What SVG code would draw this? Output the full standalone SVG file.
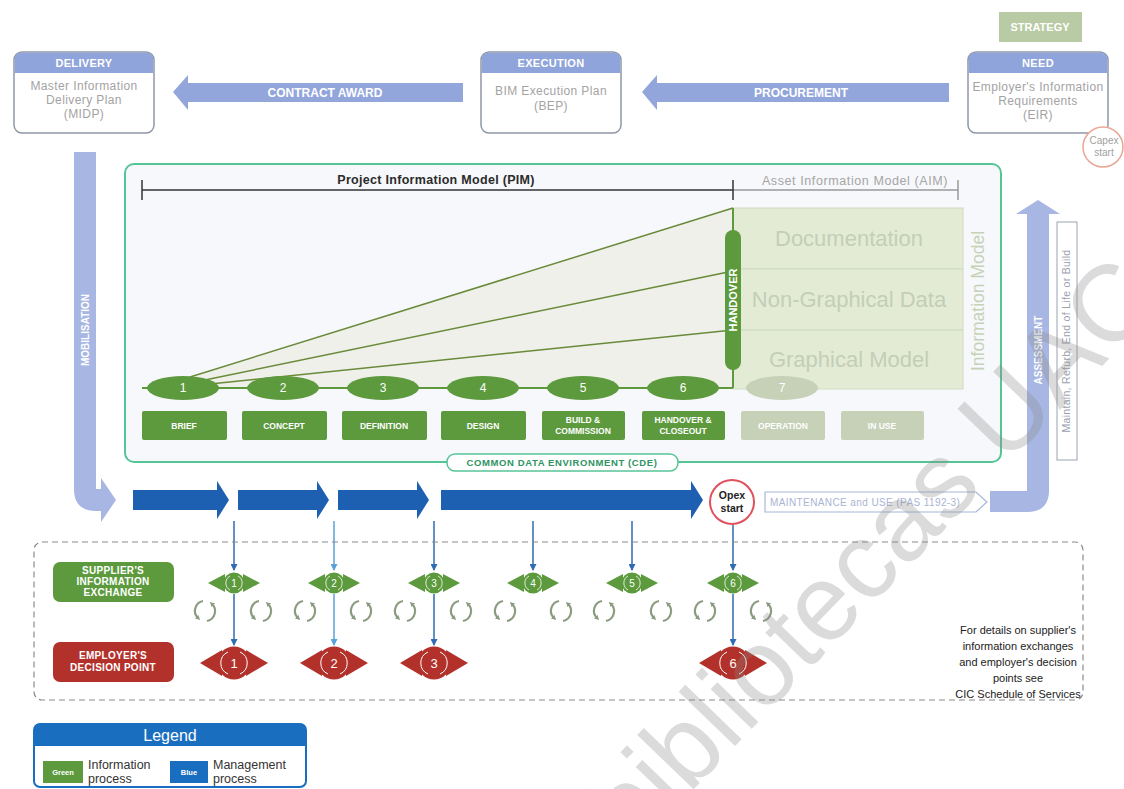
<svg xmlns="http://www.w3.org/2000/svg" width="1124" height="789" viewBox="0 0 1124 789">
<defs>
<style>
text{font-family:"Liberation Sans",Arial,sans-serif}
.pbox{fill:#fff;stroke:#8e98a8;stroke-width:1.5}
.phead{fill:#8fa4da}
.hdr{fill:#fff;font-weight:bold;font-size:11px;text-anchor:middle;letter-spacing:0.3px}
.body{fill:#a3a3a3;font-size:12px;text-anchor:middle;letter-spacing:0.4px}
.parrow{fill:#93a6dc}
.pat{fill:#fff;font-weight:bold;font-size:12px;text-anchor:middle}
.on{fill:#5c9a3d}
.off{fill:#c6d1b7}
.snum{fill:#fff;font-size:12px;text-anchor:middle}
.slab{fill:#fff;font-weight:bold;font-size:8.5px;text-anchor:middle}
.blab{fill:#fff;font-weight:bold;font-size:10px;text-anchor:middle;letter-spacing:0.3px}
.fan{stroke:#6a8a3a;stroke-width:1.5;fill:none}
.imbox{fill:#e3ebd5;stroke:#cfdcbf;stroke-width:1}
.imt{fill:#c4ceb7;font-size:22px;text-anchor:middle}
.mgmt{fill:#1d5fb0}
.vl{stroke:#2f6cb3;stroke-width:1.5;fill:none;marker-end:url(#ah)}
.vl2{stroke:#5aa2d6;stroke-width:1.5;fill:none;marker-end:url(#ah2)}
.cyc{stroke:#8b9c80;stroke-width:2.2;fill:none;marker-end:url(#ch)}
.gnum{fill:#fff;font-size:10px;text-anchor:middle}
.rnum{fill:#fff;font-size:13px;text-anchor:middle}
.note{fill:#222;font-size:11px;text-anchor:middle}
.leg{fill:#333;font-size:12.5px}
</style>
<marker id="ah" markerWidth="7" markerHeight="7" refX="6" refY="3.5" orient="auto" markerUnits="userSpaceOnUse"><path d="M0,0 L7,3.5 L0,7 Z" fill="#2f6cb3"/></marker>
<marker id="ah2" markerWidth="7" markerHeight="7" refX="6" refY="3.5" orient="auto" markerUnits="userSpaceOnUse"><path d="M0,0 L7,3.5 L0,7 Z" fill="#5aa2d6"/></marker>
<marker id="ch" markerWidth="5" markerHeight="5" refX="2" refY="2.5" orient="auto" markerUnits="userSpaceOnUse"><path d="M0,0 L5,2.5 L0,5 Z" fill="#8b9c80"/></marker>
<g id="cycle">
<path class="cyc" d="M-2,-10 A10,10 0 0 0 -7,7"/>
<path class="cyc" d="M2,10 A10,10 0 0 0 7,-7"/>
</g>
<g id="gdia">
<polygon points="-26,0 -9,-9 -9,9" fill="#5c9a3d"/>
<polygon points="26,0 9,-9 9,9" fill="#5c9a3d"/>
<circle r="10.5" fill="#5c9a3d"/>
<path d="M-4,-7 A8,8 0 0 0 -4,7 M4,-7 A8,8 0 0 1 4,7" stroke="#fff" stroke-width="0.8" fill="none"/>
</g>
<g id="rdia">
<polygon points="-34,0 -12,-13 -12,13" fill="#b3312b"/>
<polygon points="34,0 12,-13 12,13" fill="#b3312b"/>
<circle r="16.5" fill="#b3312b"/>
<path d="M-6,-11 A12,12 0 0 0 -6,11 M6,-11 A12,12 0 0 1 6,11" stroke="#fff" stroke-width="1" fill="none"/>
</g>
</defs>

<rect width="1124" height="789" fill="#fff"/>

<!-- process flow connectors -->
<g id="connectors">
<!-- contract award -->
<path class="parrow" d="M173,92 L188,75 L188,83 L463,83 L463,102 L188,102 L188,110 Z"/>
<text class="pat" x="325" y="97">CONTRACT AWARD</text>
<!-- procurement -->
<path class="parrow" d="M642,92 L657,75 L657,83 L949,83 L949,102 L657,102 L657,110 Z"/>
<text class="pat" x="801" y="97">PROCUREMENT</text>
<!-- mobilisation -->
<path fill="#a7b6e2" d="M74,152 L96,152 L96,489 L101,489 L101,478 L116,500 L101,522 L101,511 L96,511 Q74,511 74,489 Z"/>
<text transform="translate(89,330) rotate(-90)" fill="#fff" font-weight="bold" font-size="10" text-anchor="middle">MOBILISATION</text>
<!-- assessment -->
<path fill="#a7b6e2" d="M990,491 L1027,491 L1027,214 L1016,214 L1038,200 L1060,214 L1049,214 L1049,490 Q1049,512 1027,512 L990,512 Z"/>
<text transform="translate(1042,350) rotate(-90)" fill="#fff" font-weight="bold" font-size="10" text-anchor="middle">ASSESSMENT</text>
<rect x="1057" y="222" width="20" height="238" fill="#fff" stroke="#9aa2b0" stroke-width="1"/>
<text transform="translate(1070,341) rotate(-90)" fill="#9aa2b0" font-size="10.5" text-anchor="middle" letter-spacing="0.3">Maintain, Refurb, End of Life or Build</text>
<!-- management process arrows -->
<path class="mgmt" d="M133,490 L217,490 L217,481 L229,500 L217,519 L217,510 L133,510 Z"/>
<path class="mgmt" d="M238,490 L317,490 L317,481 L329,500 L317,519 L317,510 L238,510 Z"/>
<path class="mgmt" d="M338,490 L417,490 L417,481 L429,500 L417,519 L417,510 L338,510 Z"/>
<path class="mgmt" d="M441,490 L691,490 L691,481 L703,500 L691,519 L691,510 L441,510 Z"/>
<!-- maintenance and use -->
<path d="M765,492 L976,492 L987,502 L976,512 L765,512 Z" fill="#fff" stroke="#a8b6da" stroke-width="1.2"/>
<text x="770" y="506" fill="#a9b4d4" font-size="10" letter-spacing="0.4">MAINTENANCE and USE (PAS 1192-3)</text>
<!-- links to exchanges and decision points -->
<line class="vl" x1="234" y1="521" x2="234" y2="570"/>
<line class="vl2" x1="334" y1="521" x2="334" y2="570"/>
<line class="vl" x1="434" y1="521" x2="434" y2="570"/>
<line class="vl" x1="533" y1="521" x2="533" y2="570"/>
<line class="vl" x1="632" y1="521" x2="632" y2="570"/>
<line class="vl" x1="733" y1="525" x2="733" y2="570"/>
<line class="vl" x1="234" y1="594" x2="234" y2="645"/>
<line class="vl2" x1="334" y1="594" x2="334" y2="645"/>
<line class="vl" x1="434" y1="594" x2="434" y2="645"/>
<line class="vl" x1="733" y1="594" x2="733" y2="645"/>
</g>

<!-- project phase boxes -->
<g id="delivery">
<rect class="pbox" x="14" y="52" width="140" height="81" rx="8"/>
<path class="phead" d="M14.8,73 V60 Q14.8,52.8 22,52.8 H146 Q153.2,52.8 153.2,60 V73 Z"/>
<text class="hdr" x="84" y="67">DELIVERY</text>
<text class="body" x="84" y="90">Master Information</text>
<text class="body" x="84" y="104">Delivery Plan</text>
<text class="body" x="84" y="118">(MIDP)</text>
</g>
<g id="execution">
<rect class="pbox" x="481" y="52" width="140" height="81" rx="8"/>
<path class="phead" d="M481.8,73 V60 Q481.8,52.8 489,52.8 H613 Q620.2,52.8 620.2,60 V73 Z"/>
<text class="hdr" x="551" y="67">EXECUTION</text>
<text class="body" x="551" y="95">BIM Execution Plan</text>
<text class="body" x="551" y="110">(BEP)</text>
</g>
<g id="strategy">
<rect x="999" y="12" width="83" height="30" fill="#b9cba4"/>
<text x="1040" y="31" fill="#fff" font-weight="bold" font-size="11" text-anchor="middle">STRATEGY</text>
</g>
<g id="need">
<rect class="pbox" x="968" y="52" width="140" height="81" rx="8"/>
<path class="phead" d="M968.8,73 V60 Q968.8,52.8 976,52.8 H1100 Q1107.2,52.8 1107.2,60 V73 Z"/>
<text class="hdr" x="1038" y="67">NEED</text>
<text class="body" x="1038" y="91" letter-spacing="0">Employer's Information</text>
<text class="body" x="1038" y="105">Requirements</text>
<text class="body" x="1038" y="119">(EIR)</text>
</g>
<g id="capex-start">
<circle cx="1103" cy="147" r="20" fill="#fff" stroke="#e9a795" stroke-width="1.5"/>
<text x="1104" y="144" fill="#a0a0a0" font-size="10" text-anchor="middle">Capex</text>
<text x="1104" y="156" fill="#a0a0a0" font-size="10" text-anchor="middle">start</text>
</g>

<!-- common data environment -->
<g id="cde-panel">
<rect x="125" y="164" width="876" height="298" rx="9" fill="#f7f8fb" stroke="#56c596" stroke-width="2"/>
<line x1="142" y1="190" x2="733" y2="190" stroke="#333" stroke-width="1.5"/>
<line x1="142" y1="180" x2="142" y2="200" stroke="#333" stroke-width="1.5"/>
<line x1="733" y1="190" x2="958" y2="190" stroke="#9a9a9a" stroke-width="1.5"/>
<line x1="958" y1="180" x2="958" y2="200" stroke="#9a9a9a" stroke-width="1.5"/>
<line x1="733" y1="180" x2="733" y2="200" stroke="#333" stroke-width="1.5"/>
<text x="436" y="184" fill="#2b2b2b" font-weight="bold" font-size="12.5" text-anchor="middle" letter-spacing="0.3">Project Information Model (PIM)</text>
<text x="855" y="185" fill="#a5a5a5" font-size="12.5" text-anchor="middle" letter-spacing="0.6">Asset Information Model (AIM)</text>
</g>
<g id="information-model">
<polygon points="190,377 733,208 733,388 190,388" fill="#eef0e9"/>
<rect class="imbox" x="733" y="208" width="230" height="61"/>
<rect class="imbox" x="733" y="269" width="230" height="61"/>
<rect class="imbox" x="733" y="330" width="230" height="59"/>
<text class="imt" x="849" y="246">Documentation</text>
<text class="imt" x="849" y="307">Non-Graphical Data</text>
<text class="imt" x="849" y="367">Graphical Model</text>
<text transform="translate(984,301) rotate(-90)" fill="#c6d2b6" font-size="17.5" text-anchor="middle">Information Model</text>
<line class="fan" x1="190" y1="377" x2="733" y2="208"/>
<line class="fan" x1="200" y1="381" x2="733" y2="271"/>
<line class="fan" x1="210" y1="384" x2="733" y2="330"/>
<line x1="142" y1="388" x2="733" y2="388" stroke="#5c9a3d" stroke-width="2"/>
<line x1="733" y1="208" x2="733" y2="388" stroke="#5c9a3d" stroke-width="2"/>
</g>
<g id="handover">
<rect x="725" y="230" width="16" height="140" rx="8" class="on"/>
<text transform="translate(737,300) rotate(-90)" fill="#fff" font-weight="bold" font-size="11" text-anchor="middle">HANDOVER</text>
</g>
<g id="stage-1"><ellipse cx="183" cy="388" rx="36" ry="12" class="on"/><text class="snum" x="183" y="392">1</text>
<rect x="142" y="411" width="85" height="29" rx="2" class="on"/><text class="slab" x="184" y="429">BRIEF</text></g>
<g id="stage-2"><ellipse cx="283" cy="388" rx="36" ry="12" class="on"/><text class="snum" x="283" y="392">2</text>
<rect x="242" y="411" width="85" height="29" rx="2" class="on"/><text class="slab" x="284" y="429">CONCEPT</text></g>
<g id="stage-3"><ellipse cx="383" cy="388" rx="36" ry="12" class="on"/><text class="snum" x="383" y="392">3</text>
<rect x="342" y="411" width="85" height="29" rx="2" class="on"/><text class="slab" x="384" y="429">DEFINITION</text></g>
<g id="stage-4"><ellipse cx="483" cy="388" rx="36" ry="12" class="on"/><text class="snum" x="483" y="392">4</text>
<rect x="441" y="411" width="85" height="29" rx="2" class="on"/><text class="slab" x="483" y="429">DESIGN</text></g>
<g id="stage-5"><ellipse cx="583" cy="388" rx="36" ry="12" class="on"/><text class="snum" x="583" y="392">5</text>
<rect x="542" y="411" width="83" height="29" rx="2" class="on"/><text class="slab" x="583" y="423">BUILD &amp;</text><text class="slab" x="583" y="434">COMMISSION</text></g>
<g id="stage-6"><ellipse cx="683" cy="388" rx="36" ry="12" class="on"/><text class="snum" x="683" y="392">6</text>
<rect x="642" y="411" width="83" height="29" rx="2" class="on"/><text class="slab" x="683" y="423">HANDOVER &amp;</text><text class="slab" x="683" y="434">CLOSEOUT</text></g>
<g id="stage-7"><ellipse cx="782" cy="388" rx="36" ry="12" class="off"/><text class="snum" x="782" y="392">7</text>
<rect x="741" y="411" width="84" height="29" rx="2" class="off"/><text class="slab" x="783" y="429">OPERATION</text></g>
<g id="in-use"><rect x="841" y="411" width="83" height="29" rx="2" class="off"/><text class="slab" x="882" y="429">IN USE</text></g>
<g id="cde-label">
<rect x="447" y="454" width="231" height="17" rx="8" fill="#fff" stroke="#56c596" stroke-width="1.5"/>
<text x="562" y="466" fill="#2e9462" font-weight="bold" font-size="9.5" text-anchor="middle" letter-spacing="0.6">COMMON DATA ENVIRONMENT (CDE)</text>
</g>

<g id="opex-start">
<circle cx="732" cy="502" r="22" fill="#fff" stroke="#e0505e" stroke-width="2"/>
<text x="732" y="499" fill="#222" font-weight="bold" font-size="10.5" text-anchor="middle">Opex</text>
<text x="732" y="512" fill="#222" font-weight="bold" font-size="10.5" text-anchor="middle">start</text>
</g>

<!-- exchanges and decision points -->
<g id="exchange-area">
<rect x="34" y="542" width="1049" height="158" rx="8" fill="none" stroke="#8a8a8a" stroke-width="1.2" stroke-dasharray="6,4"/>
</g>
<g id="suppliers-exchange">
<rect x="53" y="562" width="121" height="40" rx="7" class="on"/>
<text class="blab" x="113" y="574">SUPPLIER'S</text>
<text class="blab" x="113" y="585">INFORMATION</text>
<text class="blab" x="113" y="596">EXCHANGE</text>
</g>
<g id="employers-decision">
<rect x="53" y="642" width="121" height="40" rx="7" fill="#b3312b"/>
<text class="blab" x="113" y="659">EMPLOYER'S</text>
<text class="blab" x="113" y="671">DECISION POINT</text>
</g>
<g id="exchange-points">
<use href="#gdia" x="234" y="583"/><text class="gnum" x="234" y="587">1</text>
<use href="#gdia" x="334" y="583"/><text class="gnum" x="334" y="587">2</text>
<use href="#gdia" x="434" y="583"/><text class="gnum" x="434" y="587">3</text>
<use href="#gdia" x="533" y="583"/><text class="gnum" x="533" y="587">4</text>
<use href="#gdia" x="632" y="583"/><text class="gnum" x="632" y="587">5</text>
<use href="#gdia" x="733" y="583"/><text class="gnum" x="733" y="587">6</text>
</g>
<g id="exchange-cycles">
<use href="#cycle" x="205" y="611"/><use href="#cycle" x="261" y="611"/>
<use href="#cycle" x="305" y="611"/><use href="#cycle" x="361" y="611"/>
<use href="#cycle" x="405" y="611"/><use href="#cycle" x="461" y="611"/>
<use href="#cycle" x="505" y="611"/><use href="#cycle" x="561" y="611"/>
<use href="#cycle" x="604" y="611"/><use href="#cycle" x="661" y="611"/>
<use href="#cycle" x="705" y="611"/><use href="#cycle" x="761" y="611"/>
</g>
<g id="decision-points">
<use href="#rdia" x="234" y="663"/><text class="rnum" x="234" y="668">1</text>
<use href="#rdia" x="334" y="663"/><text class="rnum" x="334" y="668">2</text>
<use href="#rdia" x="434" y="663"/><text class="rnum" x="434" y="668">3</text>
<use href="#rdia" x="733" y="663"/><text class="rnum" x="733" y="668">6</text>
</g>
<g id="services-note">
<text class="note" x="1018" y="634">For details on supplier's</text>
<text class="note" x="1018" y="650">information exchanges</text>
<text class="note" x="1018" y="666">and employer's decision</text>
<text class="note" x="1018" y="682">points see</text>
<text class="note" x="1018" y="698">CIC Schedule of Services</text>
</g>

<g id="legend">
<rect x="34" y="724" width="272" height="63" rx="6" fill="#fff" stroke="#1a6ec0" stroke-width="2"/>
<path d="M34,746 V730 Q34,724 40,724 H300 Q306,724 306,730 V746 Z" fill="#1a6ec0"/>
<text x="170" y="741" fill="#fff" font-size="16" text-anchor="middle">Legend</text>
<rect x="43" y="761" width="40" height="22" fill="#5c9a3d"/>
<text x="63" y="775" fill="#fff" font-weight="bold" font-size="7.5" text-anchor="middle">Green</text>
<text class="leg" x="88" y="769">Information</text>
<text class="leg" x="88" y="783">process</text>
<rect x="170" y="761" width="38" height="22" fill="#1a6ec0"/>
<text x="189" y="775" fill="#fff" font-weight="bold" font-size="7.5" text-anchor="middle">Blue</text>
<text class="leg" x="213" y="769">Management</text>
<text class="leg" x="213" y="783">process</text>
</g>

<text x="630" y="855" transform="rotate(-46 630 855)" fill="#8a8a8a" opacity="0.3" font-size="108">bibliotecas UAC</text>
</svg>
